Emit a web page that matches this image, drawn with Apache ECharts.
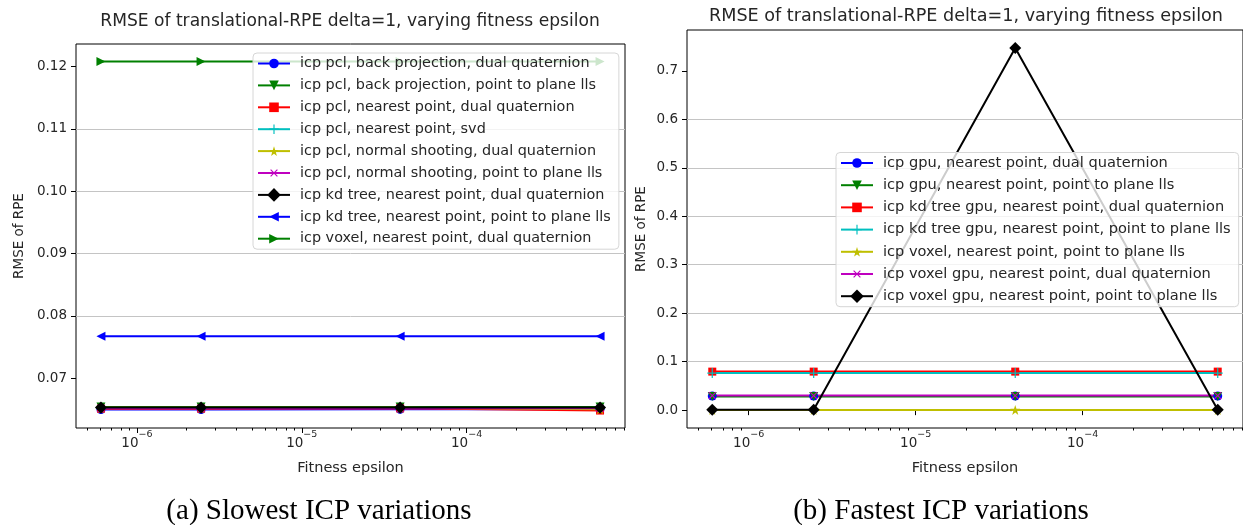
<!DOCTYPE html>
<html>
<head>
<meta charset="utf-8">
<script src="https://cdn.jsdelivr.net/npm/echarts@6/dist/echarts.min.js"></script>
<style>
  html, body { margin: 0; padding: 0; background: #fff; }
  #chart { width: 1243px; height: 525px; }
</style>
</head>
<body>
<div id="chart"></div>
<script>
// Fitness epsilon values shared by every run
const epsilons = [6.05e-7, 2.45e-6, 3.95e-5, 6.45e-4];

// (a) slowest ICP variations: RMSE of translational RPE
const slowNames = [
  'icp pcl, back projection, dual quaternion',
  'icp pcl, back projection, point to plane lls',
  'icp pcl, nearest point, dual quaternion',
  'icp pcl, nearest point, svd',
  'icp pcl, normal shooting, dual quaternion',
  'icp pcl, normal shooting, point to plane lls',
  'icp kd tree, nearest point, dual quaternion',
  'icp kd tree, nearest point, point to plane lls',
  'icp voxel, nearest point, dual quaternion'
];
const slowPclBackProjDualQuat   = [0.06495, 0.06495, 0.06500, 0.06500];
const slowPclBackProjPointPlane = [0.06535, 0.06535, 0.06535, 0.06535];
const slowPclNearestDualQuat    = [0.06510, 0.06510, 0.06515, 0.06480];
const slowPclNearestSvd         = [0.06520, 0.06520, 0.06520, 0.06520];
const slowPclNormalDualQuat     = [0.06525, 0.06525, 0.06525, 0.06500];
const slowPclNormalPointPlane   = [0.06515, 0.06515, 0.06515, 0.06515];
const slowKdNearestDualQuat     = [0.06527, 0.06527, 0.06527, 0.06527];
const slowKdNearestPointPlane   = [0.0767, 0.0767, 0.0767, 0.0767];
const slowVoxelNearestDualQuat  = [0.1208, 0.1208, 0.1208, 0.1208];
const slowValues = [
  slowPclBackProjDualQuat, slowPclBackProjPointPlane, slowPclNearestDualQuat,
  slowPclNearestSvd, slowPclNormalDualQuat, slowPclNormalPointPlane,
  slowKdNearestDualQuat, slowKdNearestPointPlane, slowVoxelNearestDualQuat
];
const slowYTicks = [0.07, 0.08, 0.09, 0.10, 0.11, 0.12];

// (b) fastest ICP variations
const fastNames = [
  'icp gpu, nearest point, dual quaternion',
  'icp gpu, nearest point, point to plane lls',
  'icp kd tree gpu, nearest point, dual quaternion',
  'icp kd tree gpu, nearest point, point to plane lls',
  'icp voxel, nearest point, point to plane lls',
  'icp voxel gpu, nearest point, dual quaternion',
  'icp voxel gpu, nearest point, point to plane lls'
];
const fastGpuNearestDualQuat        = [0.0290, 0.0290, 0.0290, 0.0290];
const fastGpuNearestPointPlane      = [0.0280, 0.0280, 0.0280, 0.0280];
const fastKdGpuNearestDualQuat      = [0.0795, 0.0795, 0.0795, 0.0795];
const fastKdGpuNearestPointPlane    = [0.0765, 0.0765, 0.0765, 0.0765];
const fastVoxelNearestPointPlane    = [0.0005, 0.0005, 0.0005, 0.0005];
const fastVoxelGpuNearestDualQuat   = [0.0300, 0.0300, 0.0300, 0.0300];
const fastVoxelGpuNearestPointPlane = [0.0008, 0.0008, 0.747, 0.0008];
const fastValues = [
  fastGpuNearestDualQuat, fastGpuNearestPointPlane, fastKdGpuNearestDualQuat,
  fastKdGpuNearestPointPlane, fastVoxelNearestPointPlane,
  fastVoxelGpuNearestDualQuat, fastVoxelGpuNearestPointPlane
];
const fastYTicks = [0.0, 0.1, 0.2, 0.3, 0.4, 0.5, 0.6, 0.7];

const xMajorTicks = [1e-6, 1e-5, 1e-4];
const xMinorTicks = [];
[1e-7, 1e-6, 1e-5, 1e-4].forEach(d => { for (let k = 2; k <= 9; k++) xMinorTicks.push(k * d); });

const chartTitle = 'RMSE of translational-RPE delta=1, varying fitness epsilon';

// ---- styling ----
const FONT = '"DejaVu Sans", sans-serif';
const TEXT = '#262626';
const GRIDLINE = '#c4c4c4';
const STAR = 'path://M50,0 L61.8,35.1 L98.6,35.5 L69,57.3 L79.4,92.7 L50,71.4 L20.6,92.7 L31,57.3 L1.4,35.5 L38.2,35.1 Z';
const PLUS = 'path://M4.4,0 h1.2 v10 h-1.2 z M0,4.4 h10 v1.2 h-10 z';
const markers = {
  circle:  { symbol: 'circle', size: 9, rotate: 0 },
  down:    { symbol: 'triangle', size: 9, rotate: 180 },
  square:  { symbol: 'rect', size: 8, rotate: 0 },
  plus:    { symbol: PLUS, size: 10, rotate: 0 },
  star:    { symbol: STAR, size: 10, rotate: 0 },
  cross:   { symbol: PLUS, size: 10, rotate: 45 },
  diamond: { symbol: 'rect', size: 8.5, rotate: 45 },
  left:    { symbol: 'triangle', size: 9, rotate: 90 },
  right:   { symbol: 'triangle', size: 9, rotate: -90 }
};
const slowStyles = [
  ['#0000ff', 'circle'], ['#008000', 'down'], ['#ff0000', 'square'],
  ['#00bfbf', 'plus'], ['#bfbf00', 'star'], ['#bf00bf', 'cross'],
  ['#000000', 'diamond'], ['#0000ff', 'left'], ['#008000', 'right']
];
const fastStyles = [
  ['#0000ff', 'circle'], ['#008000', 'down'], ['#ff0000', 'square'],
  ['#00bfbf', 'plus'], ['#bfbf00', 'star'], ['#bf00bf', 'cross'],
  ['#000000', 'diamond']
];

// matplotlib-like 5% data margins
function logRange(vals) {
  const l = vals.map(v => Math.log10(v));
  const lo = Math.min(...l), hi = Math.max(...l), m = (hi - lo) * 0.05;
  return [Math.pow(10, lo - m), Math.pow(10, hi + m)];
}
function linRange(vals) {
  const lo = Math.min(...vals), hi = Math.max(...vals), m = (hi - lo) * 0.05;
  return [lo - m, hi + m];
}

const xRange = logRange(epsilons);
const slowYRange = linRange(slowValues.flat());
const fastYRange = linRange(fastValues.flat());

function makeSeries(names, values, styles, gridIndex) {
  return names.map((name, i) => {
    const [color, mk] = styles[i];
    const m = markers[mk];
    return {
      type: 'line',
      name: name,
      xAxisIndex: gridIndex * 2,
      yAxisIndex: gridIndex,
      data: epsilons.map((e, j) => [e, values[i][j]]),
      symbol: m.symbol,
      symbolSize: m.size,
      symbolRotate: m.rotate,
      showSymbol: true,
      showAllSymbol: true,
      lineStyle: { color: color, width: 2 },
      itemStyle: { color: color, borderWidth: 0 },
      emphasis: { disabled: true },
      z: 3
    };
  });
}

function powerLabel(v) {
  const e = Math.round(Math.log10(v));
  return '{b|10}{s|\u2212' + Math.abs(e) + '}';
}

function xAxes(gridIndex) {
  return [
    {
      gridIndex: gridIndex,
      type: 'log',
      logBase: 10,
      position: 'bottom',
      min: xRange[0],
      max: xRange[1],
      axisLine: { show: false },
      axisTick: { show: true, inside: false, customValues: xMajorTicks, length: 5, lineStyle: { color: '#000', width: 1 } },
      axisLabel: {
        customValues: xMajorTicks,
        formatter: powerLabel,
        margin: 2,
        rich: {
          b: { fontFamily: FONT, fontSize: 13.5, color: TEXT, lineHeight: 20, verticalAlign: 'bottom' },
          s: { fontFamily: FONT, fontSize: 9.5, color: TEXT, lineHeight: 12, verticalAlign: 'top' }
        }
      },
      splitLine: { show: false },
      minorTick: { show: false },
      name: 'Fitness epsilon',
      nameLocation: 'middle',
      nameGap: 33,
      nameTextStyle: { fontFamily: FONT, fontSize: 14.5, color: TEXT }
    },
    {
      gridIndex: gridIndex,
      type: 'log',
      logBase: 10,
      position: 'bottom',
      min: xRange[0],
      max: xRange[1],
      axisLine: { show: false },
      axisTick: { show: true, inside: false, customValues: xMinorTicks, length: 2.5, lineStyle: { color: '#000', width: 1 } },
      axisLabel: { show: false },
      splitLine: { show: false }
    }
  ];
}

function yAxis(gridIndex, range, ticks, digits, nameGap) {
  return {
    gridIndex: gridIndex,
    type: 'value',
    position: 'left',
    min: range[0],
    max: range[1],
    splitNumber: ticks.length + 1,
    axisLine: { show: false },
    axisTick: { show: true, customValues: ticks, length: 5, lineStyle: { color: '#000', width: 1 } },
    axisLabel: {
      customValues: ticks,
      formatter: v => v.toFixed(digits),
      margin: 9,
      fontFamily: FONT, fontSize: 13.5, color: TEXT
    },
    splitLine: { show: true, showMinLine: false, showMaxLine: false, lineStyle: { color: GRIDLINE, width: 1 } },
    name: 'RMSE of RPE',
    nameLocation: 'middle',
    nameGap: nameGap,
    nameTextStyle: { fontFamily: FONT, fontSize: 13.5, color: TEXT }
  };
}

function legend(names, left, top, gap, fontSize) {
  return {
    data: names,
    orient: 'vertical',
    left: left,
    top: top,
    itemWidth: 32,
    itemHeight: 12,
    itemGap: gap,
    padding: [3, 8, 3, 4],
    backgroundColor: 'rgba(255,255,255,0.8)',
    borderColor: '#d6d6d6',
    borderWidth: 1,
    borderRadius: 4,
    selectedMode: false,
    textStyle: { fontFamily: FONT, fontSize: fontSize, color: TEXT, lineHeight: 15, padding: [0, 0, 0, 5] },
    z: 10
  };
}

const chart = echarts.init(document.getElementById('chart'), null, { renderer: 'canvas' });
chart.setOption({
  animation: false,
  backgroundColor: '#ffffff',
  grid: [
    { left: 76, top: 44, width: 549, height: 384, show: true, borderColor: '#000', borderWidth: 1, backgroundColor: 'transparent' },
    { left: 687, top: 30, width: 559, height: 398, show: true, borderColor: '#000', borderWidth: 1, backgroundColor: 'transparent' }
  ],
  xAxis: [...xAxes(0), ...xAxes(1)],
  yAxis: [
    yAxis(0, slowYRange, slowYTicks, 2, 50),
    yAxis(1, fastYRange, fastYTicks, 1, 39)
  ],
  legend: [
    legend(slowNames, 253, 53, 6.9, 14.4),
    legend(fastNames, 836, 152.5, 7.2, 14.6)
  ],
  series: [
    ...makeSeries(slowNames, slowValues, slowStyles, 0),
    ...makeSeries(fastNames, fastValues, fastStyles, 1)
  ],
  graphic: [
    { type: 'text', x: 350, y: 22, style: { text: chartTitle, font: '17.1px "DejaVu Sans"', fill: TEXT, textAlign: 'center', textVerticalAlign: 'middle' } },
    { type: 'text', x: 966, y: 16, style: { text: chartTitle, font: '17.6px "DejaVu Sans"', fill: TEXT, textAlign: 'center', textVerticalAlign: 'middle' } },
    { type: 'text', x: 319, y: 511, style: { text: '(a) Slowest ICP variations', font: '29px "Liberation Serif"', fill: '#000', textAlign: 'center', textVerticalAlign: 'middle' } },
    { type: 'text', x: 941, y: 511, style: { text: '(b) Fastest ICP variations', font: '29px "Liberation Serif"', fill: '#000', textAlign: 'center', textVerticalAlign: 'middle' } }
  ]
});
</script>
</body>
</html>
